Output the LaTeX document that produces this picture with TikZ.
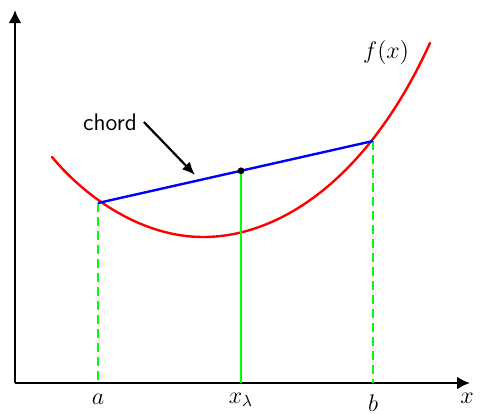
\documentclass[tikz,border=0pt]{standalone}
\usepackage{amsmath,amssymb}
\usetikzlibrary{arrows.meta}

\begin{document}
\begin{tikzpicture}[x=0.5pt,y=-0.5pt]
\tikzset{
  axisline/.style={draw=black,line width=1.3pt,-{Latex[length=6.5pt,width=6.5pt]}},
  curveline/.style={draw=red,line width=1.2pt,line cap=round},
  chordline/.style={draw=blue,line width=1.2pt},
  dropline/.style={draw=green,line width=1.3pt},
  dashdrop/.style={dropline,dash pattern=on 4.5pt off 2.5pt},
  pointer/.style={draw=black,line width=1.1pt,-{Latex[length=6.5pt,width=5.5pt]}},
  ticklabel/.style={anchor=base,font=\large,inner sep=0pt},
  textlabel/.style={font=\large\sffamily}
}
\useasboundingbox (0,0) rectangle (485,413);
% axes
\coordinate (o) at (15,383);
\coordinate (ytip) at (15,10);
\coordinate (xtip) at (470,383);
\draw[axisline] (o) -- (ytip);
\draw[axisline] (o) -- (xtip);
% curve
\draw[curveline] (52,157) .. controls (87,199) and (143,237) .. (203,237)
  .. controls (283,237) and (370,175) .. (430,43);
% chord
\coordinate (p_a) at (98,203);
\coordinate (p_b) at (373,141);
\coordinate (p_l) at (241,170.8);
\coordinate (f_a) at (98,383);
\coordinate (f_b) at (373,383);
\coordinate (f_l) at (241,383);
\draw[dashdrop] (p_a) -- (f_a);
\draw[dashdrop] (p_b) -- (f_b);
\draw[dropline] (p_l) -- (f_l);
\draw[chordline] (p_a) -- (p_b);
\fill (p_l) circle (1.7pt);
% labels
\node[ticklabel] (n_a) at (98,404) {$a$};
\node[ticklabel] (n_l) at (241,403) {$x_\lambda$};
\node[ticklabel] (n_b) at (373,411) {$b$};
\node[ticklabel] (n_x) at (467,403) {$x$};
\node[ticklabel] (n_f) at (386,58) {$f(x)$};
\node[textlabel] (n_chord) at (110,122) {chord};
\coordinate (chordtip) at (195,175);
\draw[pointer] (n_chord.east) -- (chordtip);
\end{tikzpicture}
\end{document}
